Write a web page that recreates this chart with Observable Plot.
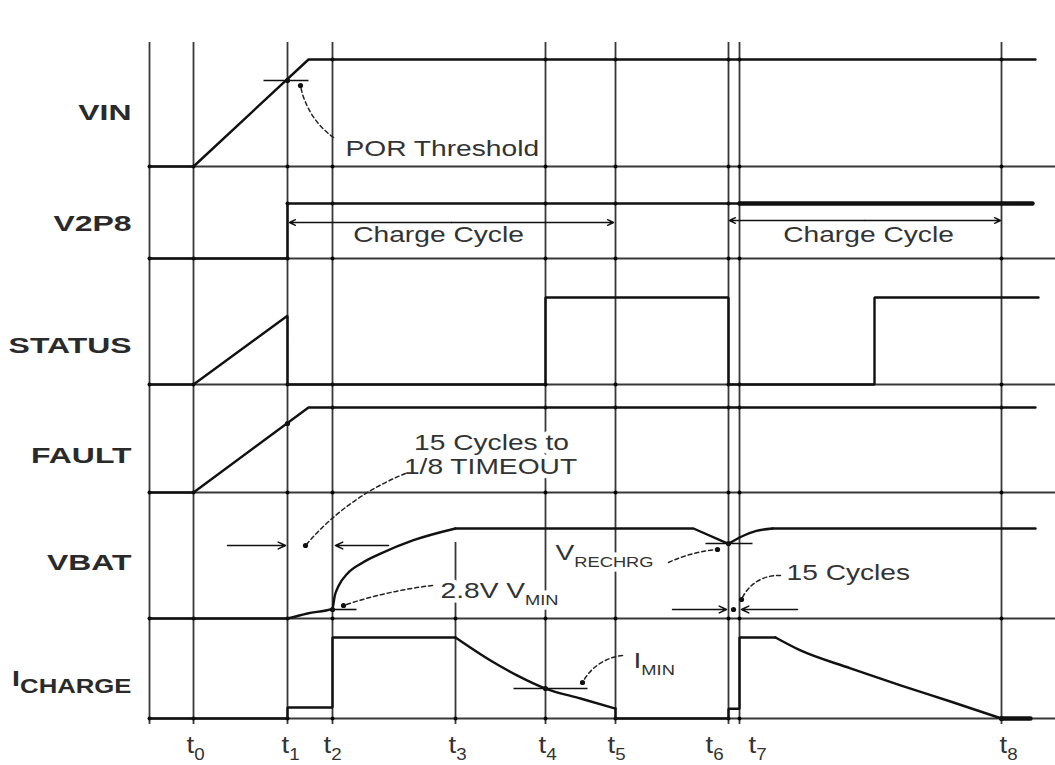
<!DOCTYPE html>
<html>
<head>
<meta charset="utf-8">
<script src="https://cdn.jsdelivr.net/npm/d3@7"></script>
<script src="https://cdn.jsdelivr.net/npm/@observablehq/plot@0.6"></script>
<style>
  body { margin: 0; background: #fff; }
  #chart svg { display: block; }
</style>
</head>
<body>
<div id="chart"></div>
<script>
// ================= DATA =================
// event times (time units), t0..t8
const timeNames = ["t_{0}","t_{1}","t_{2}","t_{3}","t_{4}","t_{5}","t_{6}","t_{7}","t_{8}"];
const times = [44, 138, 183, 306, 396, 466, 579, 590, 852];

// signal rows (top to bottom)
const rowNames = ["VIN", "V2P8", "STATUS", "FAULT", "VBAT", "I_{CHARGE}"];

// waveforms: [time, level] with level 0 = low, 1 = high
const vinWave      = [[0,0],[44,0],[159,1],[886,1]];
const v2p8Wave     = [[0,0],[138,0],[138,1],[590,1]];
const v2p8Bold     = [[590,1],[883,1]];
const statusWave   = [[0,0],[44,0],[138,0.79],[138,0],[396,0],[396,1],[579,1],[579,0],[725,0],[725,1],[889,1]];
const faultWave    = [[0,0],[44,0],[159,1],[886,1]];
const vbatFlat     = [[0,0],[138,0]];
const vbatRise     = [[138,0],[158,0.056],[183,0.11],[185,0.24],[189,0.36],[198,0.5],[213,0.62],[231,0.72],[264,0.87],[306,1]];
const vbatHold     = [[306,1],[544,1],[579,0.83],[590,0.9]];
const vbatRecover  = [[590,0.9],[606,0.97],[623,1]];
const vbatEnd      = [[623,1],[886,1]];
const ichgStart    = [[0,0],[138,0],[138,0.136],[183,0.136],[183,1],[306,1]];
const ichgDecay1   = [[306,1],[341,0.716],[368,0.53],[396,0.37],[431,0.247],[466,0.123]];
const ichgMid      = [[466,0.123],[466,0],[579,0],[579,0.12],[590,0.12],[590,1],[626,1]];
const ichgDecay2   = [[626,1],[651,0.84],[701,0.62],[751,0.41],[801,0.21],[852,0]];
const ichgBold     = [[852,0],[881,0]];

// annotation values (time, vertical diagram units)
const thresholdTicks = [
  {t1: 114, t2: 159, y: 638},   // POR threshold
  {t1: 183, t2: 207, y: 109},   // 2.8V VMIN
  {t1: 556, t2: 603, y: 175},   // VRECHRG
  {t1: 364, t2: 438, y: 30}     // IMIN
];
const spanArrows = [           // double-headed "Charge Cycle" spans
  {t1: 140, t2: 464, y: 496},
  {t1: 580, t2: 851, y: 498}
];
const pointArrows = [          // single arrows pointing at an edge
  {x1: 78,  x2: 136, y: 173},
  {x1: 239, x2: 186, y: 173},
  {x1: 523, x2: 577, y: 109},
  {x1: 648, x2: 592, y: 109}
];
const leaders = [              // dashed call-out leaders: from text to tip
  {x1: 184, y1: 581, x2: 151, y2: 633, bend: 22},
  {x1: 256, y1: 245, x2: 156, y2: 173, bend: -14},
  {x1: 283, y1: 133, x2: 194, y2: 113, bend: -6},
  {x1: 519, y1: 156, x2: 568, y2: 169, bend: 10},
  {x1: 631, y1: 143, x2: 592, y2: 119, bend: -35},
  {x1: 473, y1: 63,  x2: 433, y2: 36,  bend: -28}
];
const junctions = [[138,638],[138,295],[579,175],[396,30],[852,0],[584,109],[183,109]];
const labelsStart = [
  {t: 196, y: 570, text: "POR Threshold"},
  {t: 291, y: 128, text: "2.8V V_{MIN}"},
  {t: 406, y: 166, text: "V_{RECHRG}"},
  {t: 637, y: 146, text: "15 Cycles"},
  {t: 484, y: 58,  text: "I_{MIN}"}
];
const labelsMiddle = [
  {t: 289, y: 484, text: "Charge Cycle"},
  {t: 719, y: 484, text: "Charge Cycle"},
  {t: 342, y: 276, text: "15 Cycles to"},
  {t: 341, y: 252, text: "1/8 TIMEOUT"}
];

// ================= LAYOUT =================
const rowBase = [552, 460, 334, 226, 100, 0];
const rowHigh = [659, 515, 421, 311, 190, 81];
const rowLabelY = [606, 495, 373, 263, 156, 40];
const GRID_X0 = 0, GRID_X1 = 906, GRID_TOP = 676, GRID_BOTTOM = -6, T3_TOP = 176;
const tickLabelY = -27;
const labelNudge = [-7, -6, -9, -7, -7, -8, -23, 9, -2];

const pieces = [
  {row: 0, pts: vinWave},
  {row: 1, pts: v2p8Wave},
  {row: 1, pts: v2p8Bold, bold: true},
  {row: 2, pts: statusWave},
  {row: 3, pts: faultWave},
  {row: 4, pts: vbatFlat},
  {row: 4, pts: vbatRise, curved: true},
  {row: 4, pts: vbatHold},
  {row: 4, pts: vbatRecover, curved: true},
  {row: 4, pts: vbatEnd},
  {row: 5, pts: ichgStart},
  {row: 5, pts: ichgDecay1, curved: true},
  {row: 5, pts: ichgMid},
  {row: 5, pts: ichgDecay2, curved: true},
  {row: 5, pts: ichgBold, bold: true}
];
const sig = pieces.flatMap((p, i) => p.pts.map(([t, v]) => ({
  i, t, y: rowBase[p.row] + v * (rowHigh[p.row] - rowBase[p.row]),
  curved: !!p.curved, bold: !!p.bold
})));

const vlines = [0, ...times].map((t, i) => ({t, top: i === 4 ? T3_TOP : GRID_TOP}));
// junction dots where grid lines cross baselines and the steady high levels
const highFrom = [{row: 0, from: 159}, {row: 1, from: 138}, {row: 3, from: 159}];
const crossings = vlines.flatMap(v => [
  ...rowBase,
  ...highFrom.filter(h => v.t >= h.from).map(h => rowHigh[h.row])
].filter(y => y <= v.top).map(y => ({t: v.t, y})));

const spanHalves = spanArrows.flatMap(a => {
  const m = (a.t1 + a.t2) / 2;
  return [{x1: m, x2: a.t1, y: a.y}, {x1: m, x2: a.t2, y: a.y}];
});

const tickLabels = times.map((t, i) => ({t: t + labelNudge[i], text: timeNames[i]}));
const rowLabels = rowNames.map((n, i) => ({text: n, y: rowLabelY[i]}));

const FONT = "Liberation Sans, Arial, Helvetica, sans-serif";
const INK = "#111";

const svg = Plot.plot({
  width: 1055,
  height: 765,
  marginLeft: 149,
  marginRight: 0,
  marginTop: 0,
  marginBottom: 0,
  x: {domain: [0, 906], axis: null},
  y: {domain: [-47, 718], axis: null},
  style: {background: "#fff", fontFamily: FONT, overflow: "visible"},
  marks: [
    // grid
    Plot.ruleY(rowBase, {x1: GRID_X0, x2: GRID_X1, stroke: "#000", strokeOpacity: 0.78, strokeWidth: 1.8}),
    Plot.ruleX(vlines, {x: "t", y1: GRID_BOTTOM, y2: "top", stroke: "#000", strokeOpacity: 0.78, strokeWidth: 1.8}),
    Plot.dot(crossings, {x: "t", y: "y", r: 2, fill: "#000"}),
    // white halos making gaps in grid lines behind texts
    Plot.text(labelsStart, {x: "t", y: "y", text: "text", textAnchor: "start", fontSize: 22, fill: "white", stroke: "white", strokeWidth: 9}),
    Plot.text(labelsMiddle, {x: "t", y: "y", text: "text", textAnchor: "middle", fontSize: 22, fill: "white", stroke: "white", strokeWidth: 9}),
    // signals
    Plot.line(sig.filter(d => !d.curved && !d.bold), {x: "t", y: "y", z: "i", stroke: INK, strokeWidth: 2.4, strokeLinejoin: "miter"}),
    Plot.line(sig.filter(d => d.curved), {x: "t", y: "y", z: "i", stroke: INK, strokeWidth: 2.4, curve: "monotone-x"}),
    Plot.line(sig.filter(d => d.bold), {x: "t", y: "y", z: "i", stroke: INK, strokeWidth: 4.5}),
    // threshold ticks
    Plot.link(thresholdTicks, {x1: "t1", x2: "t2", y1: "y", y2: "y", stroke: INK, strokeWidth: 1.6}),
    // arrows
    Plot.arrow(spanHalves, {x1: "x1", x2: "x2", y1: "y", y2: "y", stroke: INK, strokeWidth: 1.4, headLength: 7, headAngle: 50}),
    Plot.arrow(pointArrows, {x1: "x1", x2: "x2", y1: "y", y2: "y", stroke: INK, strokeWidth: 1.5, headLength: 8, headAngle: 50}),
    ...leaders.map(l => Plot.arrow([l], {x1: "x1", y1: "y1", x2: "x2", y2: "y2", bend: l.bend, headLength: 0, stroke: "#222", strokeWidth: 1.5, strokeDasharray: "4,3"})),
    Plot.dot(leaders, {x: "x2", y: "y2", r: 2.6, fill: INK}),
    Plot.dot(junctions, {x: d => d[0], y: d => d[1], r: 2.6, fill: INK}),
    // texts
    Plot.text(labelsStart, {x: "t", y: "y", text: "text", textAnchor: "start", fontSize: 22, fill: "#333"}),
    Plot.text(labelsMiddle, {x: "t", y: "y", text: "text", textAnchor: "middle", fontSize: 22, fill: "#333"}),
    Plot.text(rowLabels, {x: -18, y: "y", text: "text", textAnchor: "end", fontSize: 22, fontWeight: "bold", fill: "#2a2a2a"}),
    Plot.text(tickLabels, {x: "t", y: tickLabelY, text: "text", textAnchor: "start", fontSize: 23, fill: "#333"})
  ]
});

document.getElementById("chart").append(svg);

// rich text: subscripts written as A_{B}, then horizontal stretch like the source
const NS = "http://www.w3.org/2000/svg";
const rowSet = new Set(rowNames), tickSet = new Set(timeNames);
const cfgFor = s => rowSet.has(s) ? {k: s.includes("_") ? 1.3 : 1.45, sub: 0.9, shift: 0.32}
                  : tickSet.has(s) ? {k: 1.2, sub: 0.68, shift: 0.3}
                  : {k: 1.28, sub: 0.65, shift: 0.35};
svg.querySelectorAll("text").forEach(el => {
  const s = el.textContent;
  const c = cfgFor(s);
  const m = s.match(/^(.*?)_\{(.+?)\}(.*)$/);
  const fs = parseFloat(getComputedStyle(el).fontSize) || 22;
  if (m) {
    el.textContent = "";
    const add = (str, size, dy) => {
      const t = document.createElementNS(NS, "tspan");
      t.textContent = str;
      if (size) t.setAttribute("font-size", size);
      if (dy) t.setAttribute("dy", dy);
      el.appendChild(t);
    };
    add(m[1]);
    add(m[2], fs * c.sub, fs * c.shift);
    if (m[3]) add(m[3], fs, -fs * c.shift);
  }
  const w = el.getComputedTextLength();
  el.setAttribute("textLength", (w * c.k).toFixed(1));
  el.setAttribute("lengthAdjust", "spacingAndGlyphs");
});
</script>
</body>
</html>
